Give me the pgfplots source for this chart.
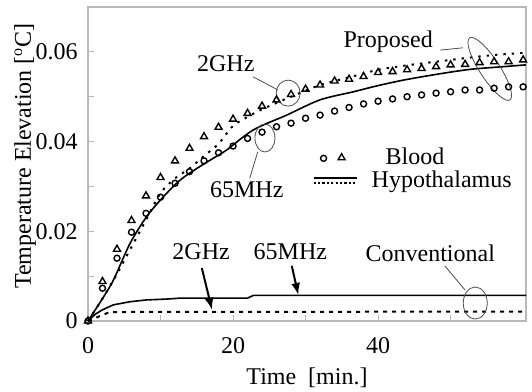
\documentclass[border=0pt]{standalone}
\usepackage{pgfplots}
\pgfplotsset{compat=1.18}
\usepackage{fontspec}
\setmainfont{Liberation Serif}
\usetikzlibrary{arrows.meta,shapes.geometric}
\begin{document}
\fontsize{12}{14}\selectfont
\begin{tikzpicture}[font=\fontsize{12}{14}\selectfont]
\begin{axis}[
 scale only axis, width=219pt, height=157pt,
 xmin=0, xmax=60.4, ymin=0, ymax=0.07,
 axis line style={draw=gray!55, line width=0.6pt},
 xtick={0,20,40}, xticklabels={0,20,40},
 ytick={0,0.02,0.04,0.06}, yticklabels={0,0.02,0.04,0.06},
 minor xtick={10,30,50}, minor ytick={0.01,0.03,0.05},
 tick pos=left, tick align=inside,
 major tick length=3pt, minor tick length=3pt,
 tick style={gray!55, line width=0.5pt},
 /pgf/number format/assume math mode=true,
 ticklabel style={font=\fontsize{12}{14}\selectfont},
 xticklabel style={yshift=-4pt},
 yticklabel style={xshift=-1pt},
 xlabel={Time\ \ [min.]},
 ylabel={Temperature Elevation [\textsuperscript{o}C]},
 label style={font=\fontsize{12}{14}\selectfont},
 xlabel style={at={(axis description cs:0.5,0)}, anchor=north, inner sep=0pt, yshift=-23pt},
 ylabel style={at={(axis description cs:0,0.5)}, anchor=center, inner sep=0pt, yshift=31.5pt, xshift=4pt},
 legend style={draw=none, fill=none, at={(axis cs:30.9,0.0395)}, anchor=north west, inner sep=0pt,
   font=\fontsize{12}{14}\selectfont, row sep=-3pt},
 legend cell align=left,
 clip=false,
]
% legend images
\addlegendimage{legend image code/.code={
  \path (0,0) (21.5pt,0);
  \draw[line width=0.7pt, mark=o, mark size=1.5pt] plot coordinates {(5pt,0)};
  \draw[line width=0.7pt, mark=triangle, mark size=2pt] plot coordinates {(14pt,0.3pt)};
}}
\addlegendentry{\hspace{12pt}Blood}
\addlegendimage{legend image code/.code={
  \draw[line width=0.8pt] (0,1.3pt) -- (21.5pt,1.3pt);
  \draw[line width=1.1pt, dash pattern=on 1.1pt off 1.1pt] (0,-1.3pt) -- (21.5pt,-1.3pt);
}}
\addlegendentry{\hspace{5pt}Hypothalamus}

% Blood 65MHz (circles)
\addplot[only marks, mark=o, mark size=1.5pt, mark options={line width=0.7pt}, forget plot] table {
0 0
2 0.0073
4 0.0140
6 0.0198
8 0.0240
10 0.0276
12 0.0307
14 0.0333
16 0.0357
18 0.0375
20 0.0390
22 0.0407
24 0.0421
26 0.0433
28 0.0441
30 0.0452
32 0.0459
34 0.0468
36 0.0476
38 0.0484
40 0.0490
42 0.0495
44 0.0500
46 0.0504
48 0.0508
50 0.0511
52 0.0515
54 0.0515
56 0.0519
58 0.0522
60 0.0522
};
% Blood 2GHz (triangles)
\addplot[only marks, mark=triangle, mark size=2pt, mark options={line width=0.7pt}, forget plot] table {
0 0
2 0.0088
4 0.0160
6 0.0224
8 0.0279
10 0.0320
12 0.0357
14 0.0385
16 0.0411
18 0.0432
20 0.0450
22 0.0463
24 0.0479
26 0.0493
28 0.0505
30 0.0517
32 0.0526
34 0.0535
36 0.0539
38 0.0545
40 0.0554
42 0.0556
44 0.0560
46 0.0563
48 0.0567
50 0.0571
52 0.0572
54 0.0576
56 0.0578
58 0.0578
60 0.0582
};
% Hypothalamus 65MHz proposed (solid)
\addplot[black, line width=0.8pt, smooth, forget plot] table {
0 0
2 0.0050
3.5 0.0091
5.8 0.0173
8.1 0.0233
10.4 0.0277
12.7 0.0314
15 0.0340
17.3 0.0363
19.1 0.0381
22.8 0.0426
27.4 0.0459
32 0.0493
36.6 0.0511
39.8 0.0524
43.5 0.0537
48.1 0.0550
52.7 0.0561
57.3 0.0567
60.4 0.0571
};
% Hypothalamus 2GHz proposed (dotted)
\addplot[black, line width=1pt, dash pattern=on 1.2pt off 3pt, smooth, forget plot] table {
0 0
2 0.0050
4 0.0105
6 0.0165
8 0.0225
10 0.0285
12 0.0318
14 0.0340
16 0.0368
18 0.0395
20 0.0435
22 0.0455
24 0.0472
28 0.0500
32 0.0526
36 0.0543
40 0.0560
44 0.0570
48 0.0578
52 0.0586
56 0.0593
60.4 0.0598
};
% Conventional 65MHz (solid)
\addplot[black, line width=0.8pt, forget plot] table {
0 0
1 0.0015
2 0.0025
3.5 0.0036
5.8 0.0043
8.1 0.0047
11 0.0049
12.7 0.0051
22 0.0051
22.8 0.0057
60.4 0.0057
};
% Conventional 2GHz (dotted)
\addplot[black, line width=1pt, dash pattern=on 2pt off 2.5pt, forget plot] table {
0 0
1.5 0.0010
3 0.0020
60.4 0.0021
};

% annotations
\node at (axis cs:19.0,0.0573) {2GHz};
\draw[gray!60!black, line width=0.4pt] (axis cs:22.8,0.0544) -- (axis cs:26.2,0.0515);
\draw[gray!60!black, line width=0.4pt] (axis cs:27.6,0.0508) ellipse (6pt and 6.5pt);

\node at (axis cs:21.9,0.0292) {65MHz};
\draw[gray!60!black, line width=0.4pt] (axis cs:22.3,0.0318) -- (axis cs:23.4,0.0377);
\draw[gray!60!black, line width=0.4pt] (axis cs:24.4,0.0408) ellipse (5pt and 7pt);

\node at (axis cs:41.4,0.0622) {Proposed};
\draw[gray!60!black, line width=0.4pt] (axis cs:48.6,0.0604) -- (axis cs:51.7,0.0609);
\node[draw=gray!60!black, line width=0.4pt, ellipse, rotate=33, minimum width=10pt, minimum height=37pt, inner sep=0pt] at (axis cs:55.4,0.0562) {};

\node at (axis cs:15.6,0.0154) {2GHz};
\draw[black, line width=1pt, -{Latex[length=6pt,width=4.5pt]}] (axis cs:15.7,0.0118) -- (axis cs:17.1,0.0025);
\node at (axis cs:27.9,0.0154) {65MHz};
\draw[black, line width=1pt, -{Latex[length=6pt,width=4.5pt]}] (axis cs:28.1,0.0123) -- (axis cs:29.0,0.0058);

\node at (axis cs:47.2,0.0152) {Conventional};
\draw[gray!60!black, line width=0.4pt] (axis cs:49.2,0.0123) -- (axis cs:52.0,0.0069);
\draw[gray!60!black, line width=0.4pt] (axis cs:53.4,0.0040) ellipse (6pt and 8pt);
\end{axis}
\pgfresetboundingbox
\path ([xshift=-44pt,yshift=-35.5pt]current axis.south west) rectangle ([xshift=3pt,yshift=3.5pt]current axis.north east);
\end{tikzpicture}
\end{document}
